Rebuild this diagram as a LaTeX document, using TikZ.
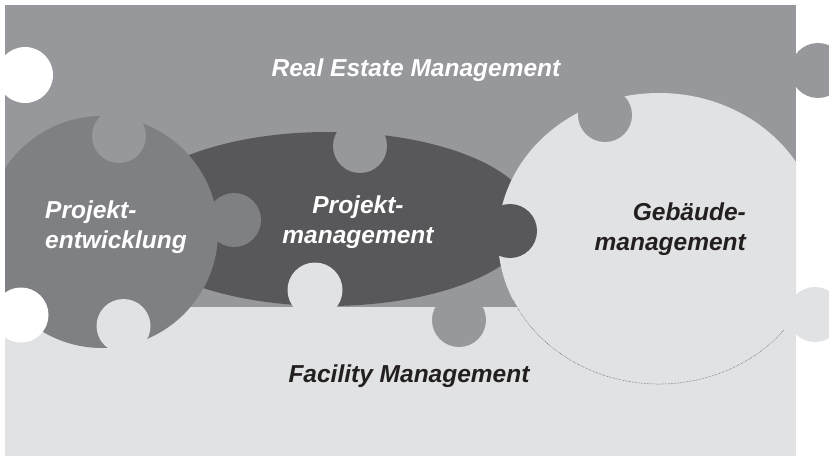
\documentclass[tikz,border=0pt]{standalone}
\usepackage{fontspec}
\setmainfont{Liberation Sans}
\definecolor{cGray}{HTML}{97989C}
\definecolor{cMid}{HTML}{7F8084}
\definecolor{cDark}{HTML}{58585A}
\definecolor{cLight}{HTML}{E1E2E4}
\definecolor{cInk}{HTML}{231F20}
\begin{document}
\begin{tikzpicture}[x=1pt,y=-1pt,
  lbl/.style={font=\fontsize{24.5}{30}\selectfont\bfseries\itshape, inner sep=0pt},
  gfill/.style={fill=cGray},
  lfill/.style={fill=cLight},
  hole/.style={fill=white}]
\useasboundingbox (0,0) rectangle (829,457);
% base areas
\fill[gfill] (5,5) rectangle (796,307);
\fill[lfill] (5,307) rectangle (796,456);
% right-hand knobs
\fill[gfill] (818,70.5) circle[radius=27.5];
\fill[lfill] (815,314.5) circle[radius=27.5];
\begin{scope}
\clip (5,5) rectangle (796,456);
% Projektmanagement (dark ellipse)
\fill[cDark] (328,219) ellipse[x radius=205, y radius=87];
% Gebaeudemanagement (light ellipse)
\fill[lfill] (659,238.5) ellipse[x radius=161, y radius=145.5];
% dark knob into Gebaeude
\fill[cDark] (510,231) circle[radius=27];
% Projektentwicklung circle
\fill[cMid] (102,232) circle[radius=116];
\fill[cMid] (234,220) circle[radius=27];
% gray knob into facility area
\fill[gfill] (459,320) circle[radius=27];
% notches
\fill[gfill] (119,136) circle[radius=27];
\fill[lfill] (123.5,326) circle[radius=27];
\fill[gfill] (360,146) circle[radius=27];
\fill[lfill] (315,290) circle[radius=27.5];
\fill[gfill] (605,115) circle[radius=27];
% white holes on the left
\fill[hole] (25,75) circle[radius=28];
\fill[hole] (21,315) circle[radius=27.5];
% dotted outline of the Gebaeude ellipse in the facility area
\draw[densely dotted, line width=0.5pt, draw=cInk!80]
  (659,238.5) ++(155:161 and 145.5) arc[start angle=155, end angle=39, x radius=161, y radius=145.5];
\end{scope}
% labels
\node[lbl, text=white, anchor=base] (rem) at (416,77) {Real Estate Management};
\node[lbl, text=cInk, anchor=base] (fm) at (409,382) {Facility Management};
\node[lbl, text=white, align=left, anchor=base west] (pe) at (45,248) {Projekt-\\entwicklung};
\node[lbl, text=white, align=center, anchor=base] (pm) at (358,243) {Projekt-\\management};
\node[lbl, text=cInk, align=right, anchor=base east] (gm) at (746,250) {Gebäude-\\management};
\end{tikzpicture}
\end{document}
